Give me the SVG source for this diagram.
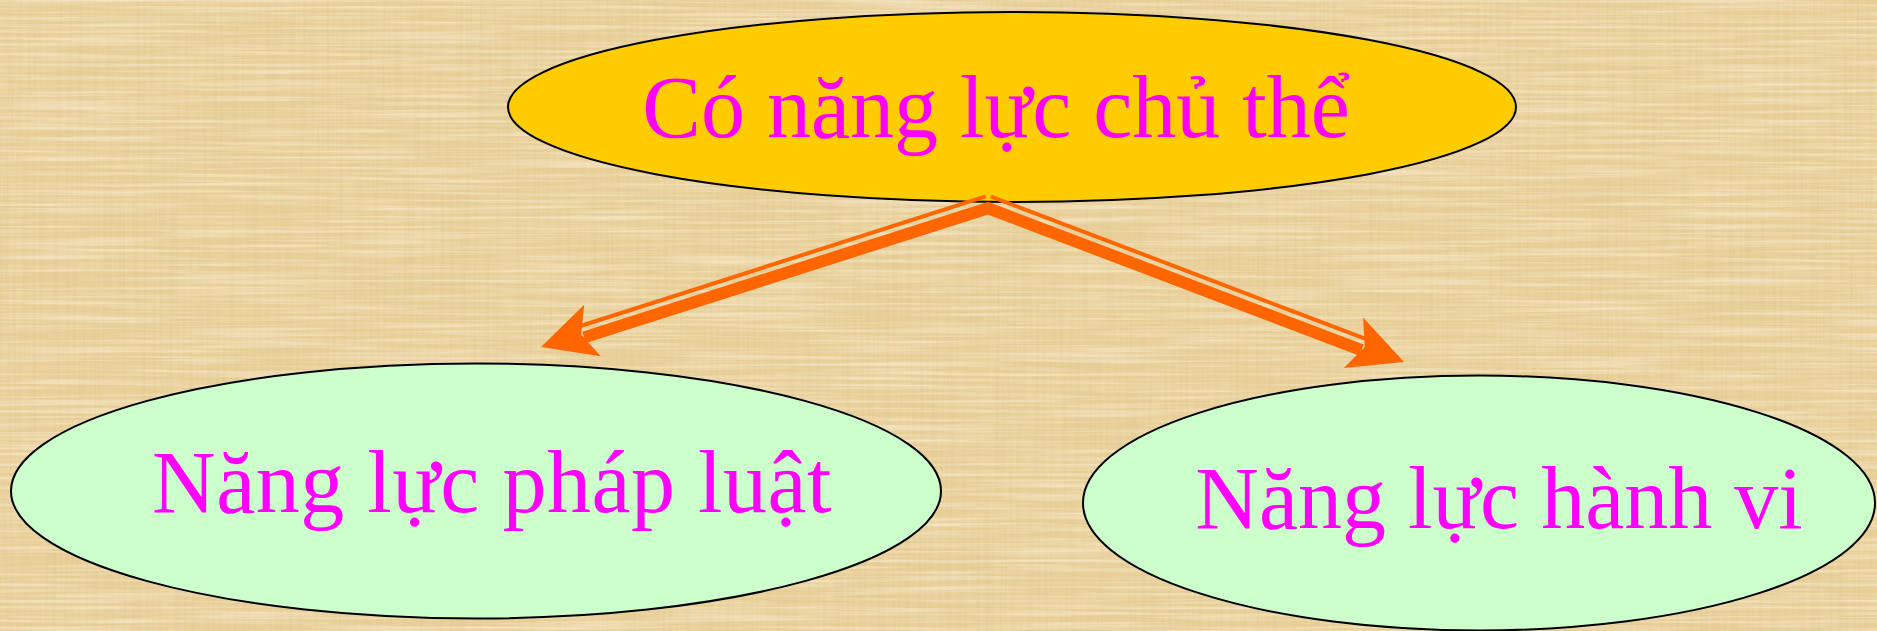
<svg xmlns="http://www.w3.org/2000/svg" width="1877" height="631" viewBox="0 0 1877 631">
<defs>
<style>
.node-top{fill:#FFCC00;stroke:#000;stroke-width:2}
.node-sub{fill:#CCFFCC;stroke:#000;stroke-width:2}
.lbl{font-family:"Liberation Serif","Times New Roman",serif;font-size:88px;fill:#FF00FF;text-anchor:middle}
.thick{fill:none;stroke:#FF6600;stroke-width:12;stroke-linejoin:miter;stroke-miterlimit:10}
.thin{fill:none;stroke:#FF6600;stroke-width:4;stroke-linecap:butt}
.head{fill:#FF6600}
</style>
<filter id="tex" x="0" y="0" width="1" height="1" filterUnits="objectBoundingBox">
<feTurbulence type="fractalNoise" baseFrequency="0.3 0.006" numOctaves="3" seed="2" result="n1"/>
<feColorMatrix in="n1" type="matrix" values="0 0 0 0 0.72  0 0 0 0 0.55  0 0 0 0 0.25  1 0 0 0 -0.4" result="c1"/>
<feTurbulence type="fractalNoise" baseFrequency="0.006 0.3" numOctaves="3" seed="5" result="n2"/>
<feColorMatrix in="n2" type="matrix" values="0 0 0 0 1  0 0 0 0 0.95  0 0 0 0 0.78  1 0 0 0 -0.4" result="c2"/>
<feMerge><feMergeNode in="SourceGraphic"/><feMergeNode in="c1"/><feMergeNode in="c2"/></feMerge>
</filter>
<polygon id="arrowhead" class="head" points="0,0 -54,-27 -42,0 -54,27"/>
</defs>
<rect x="0" y="0" width="1877" height="631" fill="#E9D09A" filter="url(#tex)"/>

<g id="node-co-nang-luc-chu-the">
<ellipse class="node-top" cx="1012" cy="107" rx="504" ry="95"/>
<text class="lbl" x="996" y="137">Có năng lực chủ thể</text>
</g>
<g id="node-nang-luc-phap-luat">
<ellipse class="node-sub" cx="476" cy="491" rx="465" ry="127.5"/>
<text class="lbl" x="492" y="512" letter-spacing="0.5">Năng lực pháp luật</text>
</g>
<g id="node-nang-luc-hanh-vi">
<ellipse class="node-sub" cx="1479" cy="503" rx="396" ry="127.5"/>
<text class="lbl" x="1499" y="528">Năng lực hành vi</text>
</g>

<g id="connectors">
<polyline class="thick" points="584.1,337.4 988,208.2 1361.5,350.1"/>
<line class="thin" x1="985.6" y1="196.4" x2="580.5" y2="326.0"/>
<line class="thin" x1="990.8" y1="196.5" x2="1365.7" y2="338.9"/>
<use href="#arrowhead" transform="translate(541,347) rotate(162.26)"/>
<use href="#arrowhead" transform="translate(1404,362) rotate(20.8)"/>
</g>
</svg>
